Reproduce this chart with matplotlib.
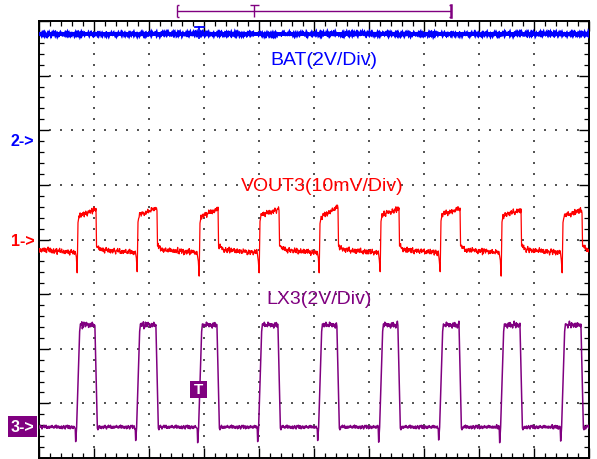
import numpy as np
import matplotlib
matplotlib.use("Agg")
import matplotlib.pyplot as plt
from matplotlib.patches import Rectangle

# ---------------- data (screen divisions: x 0..10, y 0..8) ----------------
rise_t = [0.709, 1.800, 2.927, 4.018, 5.109, 6.218, 7.309, 8.418, 9.527]
fall_t = [1.036, 2.145, 3.255, 4.364, 5.436, 6.545, 7.655, 8.764, 9.873]

# VOUT3 trace levels
vout_low = 3.81
vout_after_fall = 3.88
vout_predip = [3.68, 3.66, 3.60, 3.60, 3.66, 3.62, 3.60, 3.62, 3.62]
vout_spike = [3.39, 3.41, 3.33, 3.39, 3.39, 3.41, 3.41, 3.33, 3.39]
vout_high_start = [4.43, 4.44, 4.42, 4.45, 4.41, 4.45, 4.46, 4.44, 4.43]
vout_high_end = [4.55, 4.58, 4.56, 4.55, 4.60, 4.56, 4.56, 4.54, 4.54]

# LX3 trace levels
lx_low = 0.567
lx_high = 2.435
lx_spike = [0.30, 0.32, 0.28, 0.30, 0.32, 0.29, 0.33, 0.28, 0.31]

# BAT trace level
bat_level = 7.76

# hand-read trace texture (relative wiggle)
jit_a = [0.1, -0.6, 0.8, -0.2, 0.5, -0.9, 0.3, 0.7, -0.4, 0.0, 0.9, -0.7, 0.2, -0.3,
         0.6, -0.8, 0.4, -0.1, 1.0, -0.5, 0.2, -0.9, 0.6, 0.1, -0.4, 0.8, -0.6, 0.3,
         -0.2, 0.7, -1.0]
jit_b = [0.3, -0.2, 0.5, -0.6, 0.1, 0.8, -0.4, -0.1, 0.6, -0.7, 0.2, 0.4, -0.5, 0.9,
         -0.3, 0.0, -0.8, 0.5, 0.2, -0.6, 0.7, -0.1, -0.4]

RED = "#FF0000"
BLUE = "#0000FF"
PURPLE = "#800080"

# ---------------- helpers ----------------
W, H = 597, 459
L, R, T, B = 39, 589, 21, 458


def xd(px):
    return (px - L) / ((R - L) / 10.0)


def yd(py):
    return 8 - (py - T) / ((B - T) / 8.0)


_off = [0]


def jitter(n):
    k = np.arange(n) + _off[0]
    _off[0] += n * 7 + 5
    return (np.take(jit_a, k % len(jit_a)) + 0.6 * np.take(jit_b, (3 * k) % len(jit_b))) / 1.6


STEP = 0.009


def seg(t0, t1):
    n = max(int((t1 - t0) / STEP), 2)
    return np.linspace(t0, t1, n)


# ---------------- build traces ----------------
# VOUT3
rx, ry = [], []
prev = 0.0
start_lvl = vout_low
for i in range(len(rise_t)):
    r, f = rise_t[i], fall_t[i]
    t = seg(prev, r - 0.05)
    base = np.interp(t, [prev, prev + 0.08, r - 0.05], [start_lvl, vout_low, vout_low - 0.05])
    rx += list(t)
    ry += list(base + 0.07 * jitter(len(t)))
    rx += [r - 0.03, r - 0.015, r + 0.0, r + 0.012]
    ry += [vout_predip[i], vout_spike[i], vout_high_start[i] - 0.12, vout_high_start[i] - 0.05]
    t = seg(r + 0.02, f)
    base = np.interp(t, [r + 0.02, f], [vout_high_start[i], vout_high_end[i]])
    rx += list(t)
    ry += list(base + 0.07 * jitter(len(t)))
    rx += [f + 0.01]
    ry += [vout_after_fall]
    prev = f + 0.02
    start_lvl = vout_after_fall
t = seg(prev, 10.0)
base = np.interp(t, [prev, prev + 0.08], [start_lvl, vout_low])
rx += list(t)
ry += list(base + 0.07 * jitter(len(t)))

# LX3
lx, ly = [], []
prev = 0.0
for i in range(len(rise_t)):
    r, f = rise_t[i], fall_t[i]
    t = seg(prev, r - 0.06)
    lx += list(t)
    ly += list(lx_low + 0.045 * jitter(len(t)))
    lx += [r - 0.05, r - 0.042, r - 0.025, r + 0.03, r + 0.045, r + 0.055]
    ly += [lx_low - 0.03, lx_spike[i], lx_low, lx_high - 0.12, lx_high + 0.02, lx_high]
    t = seg(r + 0.06, f - 0.02)
    lx += list(t)
    ly += list(lx_high + 0.075 * jitter(len(t)))
    lx += [f + 0.025, f + 0.035]
    ly += [lx_low - 0.02, lx_low - 0.05]
    prev = f + 0.045
t = seg(prev, 10.0)
lx += list(t)
ly += list(lx_low + 0.045 * jitter(len(t)))

# BAT
bx = seg(0.0, 10.0)
by = bat_level + 0.035 * jitter(len(bx))

# ---------------- figure ----------------
plt.rcParams["font.family"] = ["Liberation Sans", "DejaVu Sans"]
fig = plt.figure(figsize=(W / 100, H / 100), dpi=100)
fig.patch.set_facecolor("white")
ax = fig.add_axes([L / W, (H - B) / H, (R - L) / W, (B - T) / H])
ax.set_xlim(0, 10)
ax.set_ylim(0, 8)

# dotted graticule
gx, gy = [], []
for k in range(1, 10):
    yy = np.arange(1, 40) * 0.2
    gx += [k] * len(yy)
    gy += list(yy)
for k in range(1, 8):
    xx = np.arange(1, 50) * 0.2
    gx += list(xx)
    gy += [k] * len(xx)
ax.scatter(gx, gy, s=1.1, marker="s", color="#555555", linewidths=0, zorder=1)

# traces
ax.plot(bx, by, color=BLUE, lw=2.2, zorder=3, solid_joinstyle="miter")
ax.plot(rx, ry, color=RED, lw=0.9, zorder=3)
ax.plot(lx, ly, color=PURPLE, lw=1.1, zorder=3)

# frame / ticks
for s in ax.spines.values():
    s.set_linewidth(1.4)
    s.set_color("black")
ax.set_xticks(np.arange(0, 11, 1))
ax.set_yticks(np.arange(0, 9, 1))
ax.set_xticks(np.arange(0, 10.01, 0.2), minor=True)
ax.set_yticks(np.arange(0, 8.01, 0.2), minor=True)
ax.tick_params(which="both", direction="in", top=True, right=True, bottom=True, left=True,
               labelbottom=False, labelleft=False, color="black")
ax.tick_params(which="major", length=7.5, width=1.0)
ax.tick_params(which="minor", length=3.3, width=0.9)

# labels
ax.text(xd(270), yd(65), "BAT(2V/Div)", color=BLUE, fontsize=14, ha="left", va="baseline")
ax.text(xd(241), yd(191), "VOUT3(10mV/Div)", color=RED, fontsize=14, ha="left", va="baseline")
ax.text(xd(266.5), yd(304.5), "LX3(2V/Div)", color=PURPLE, fontsize=14, ha="left", va="baseline")

ax.text(xd(10.5), yd(145.5), "2->", color=BLUE, fontsize=11.5, fontweight="bold",
        ha="left", va="baseline", clip_on=False)
ax.text(xd(10.5), yd(246.5), "1->", color=RED, fontsize=11.5, fontweight="bold",
        ha="left", va="baseline", clip_on=False)

# channel 3 marker box
fig.add_artist(Rectangle((8 / W, (H - 437) / H), 29 / W, 21 / H, transform=fig.transFigure,
                         facecolor=PURPLE, edgecolor="none", zorder=5))
fig.text(22.5 / W, (H - 427) / H, "3->", color="white", fontsize=11.5, fontweight="bold",
         ha="center", va="center", zorder=6)

# trigger marker box
fig.add_artist(Rectangle((190 / W, (H - 398) / H), 17 / W, 17 / H, transform=fig.transFigure,
                         facecolor=PURPLE, edgecolor="none", zorder=5))
fig.text(198.5 / W, (H - 389.5) / H, "T", color="white", fontsize=11, fontweight="bold",
         ha="center", va="center", zorder=6)

# blue trigger-position T on the BAT trace
ax.plot([xd(195), xd(203.5)], [yd(26.8), yd(26.8)], color=BLUE, lw=1.3, zorder=4, clip_on=False)
ax.plot([xd(199.3), xd(199.3)], [yd(26.8), yd(37.5)], color=BLUE, lw=1.3, zorder=4, clip_on=False)

# record-window bracket above the screen
kw = dict(color=PURPLE, lw=1.0, clip_on=False, solid_capstyle="butt")
ax.plot([xd(176.7), xd(451)], [yd(11.5), yd(11.5)], **kw)
ax.plot([xd(176.7), xd(176.7)], [yd(5), yd(17.3)], **kw)
ax.plot([xd(176.7), xd(178.6)], [yd(5.3), yd(5.3)], **kw)
ax.plot([xd(176.7), xd(178.6)], [yd(17), yd(17)], **kw)
ax.plot([xd(451.3), xd(451.3)], [yd(5), yd(17.3)], color=PURPLE, lw=1.8, clip_on=False)
ax.plot([xd(448.5), xd(451.3)], [yd(5.3), yd(5.3)], **kw)
ax.plot([xd(448.5), xd(451.3)], [yd(17), yd(17)], **kw)
ax.plot([xd(250), xd(258.5)], [yd(5.3), yd(5.3)], **kw)
ax.plot([xd(254.3), xd(254.3)], [yd(5.3), yd(16.8)], **kw)

fig.savefig("out.png", dpi=100, facecolor="white")
